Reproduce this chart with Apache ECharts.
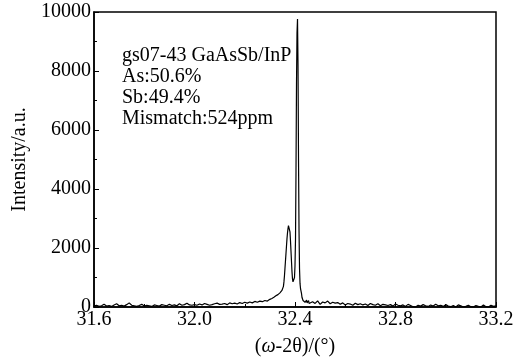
<!DOCTYPE html>
<html>
<head>
<meta charset="utf-8">
<script src="https://cdn.jsdelivr.net/npm/echarts@6/dist/echarts.min.js"></script>
<style>html,body{margin:0;padding:0;background:#fff}#c{width:530px;height:362px}</style>
</head>
<body>
<div id="c"></div>
<script>
// Scan segments (angle in degrees, intensity in a.u.)
const leftStart = 31.60, leftStep = 0.01;
const leftIntensity = [
  30,60,20,40,90,30,50,20,70,110,
  40,60,30,80,140,60,40,20,50,90,
  30,60,40,20,70,50,30,80,60,40,
  90,50,70,40,110,60,80,130,70,60,
  80,60,100,70,120,90,60,80,110,130,
  90,100,120,80,140,110,130,100,150,120,
  160,130,170,140,190,160,200,180,220,200,
  260
];
const peakStart = 32.302, peakStep = 0.002;
const peakIntensity = [
  230,270,240,290,260,310,280,330,300,350,
  320,380,340,400,370,420,390,450,420,480,
  460,520,500,560,580,620,700,850,1050,1300,
  1550,1800,2050,2300,2500,2650,2760,2810,2750,2550,
  2250,1900,1550,1200,950,850,820,880,1000,1400,
  2300,4600,7600,9300,9760,8200,5000,2600,1300,800,
  620,560,450,320,260,220,250,180,210,160,
  190,150,230,140,200,130,220,120,180,110
];
const rightStart = 32.47, rightStep = 0.01;
const rightIntensity = [
  180,120,210,90,170,140,200,110,160,130,
  150,90,140,70,120,100,60,130,80,110,
  70,100,50,120,80,60,110,40,90,70,
  50,80,30,100,60,40,70,20,90,50,
  10,0,60,30,80,40,20,70,30,90,
  40,60,20,80,30,10,50,0,70,40,
  0,20,60,10,0,50,20,0,70,10,
  0,60,20,40
];
const yTicks = [0,2000,4000,6000,8000,10000];
const xTicks = [31.6,32.0,32.4,32.8,33.2];
const annotation = ['gs07-43 GaAsSb/InP','As:50.6%','Sb:49.4%','Mismatch:524ppm'];

const data = [];
leftIntensity.forEach((v,i)=>data.push([+(leftStart+i*leftStep).toFixed(4), v]));
peakIntensity.forEach((v,i)=>data.push([+(peakStart+i*peakStep).toFixed(4), v]));
rightIntensity.forEach((v,i)=>data.push([+(rightStart+i*rightStep).toFixed(4), v]));

const font = 'Liberation Serif';
const chart = echarts.init(document.getElementById('c'));
chart.setOption({
  animation:false,
  backgroundColor:'#fff',
  grid:{left:94,right:34,top:12,bottom:55,show:true,borderColor:'#000',borderWidth:1.5,backgroundColor:'transparent'},
  xAxis:{
    type:'value',min:xTicks[0],max:xTicks[xTicks.length-1],interval:0.4,
    axisLine:{lineStyle:{color:'#000',width:1.5}},
    axisTick:{inside:true,length:5,lineStyle:{color:'#000'}},
    minorTick:{show:true,splitNumber:2,length:3,lineStyle:{color:'#000'}},
    splitLine:{show:false},
    axisLabel:{color:'#000',fontFamily:font,fontSize:20,margin:3,formatter:v=>v.toFixed(1)},
    name:'({i|ω}-2θ)/(°)',nameLocation:'middle',nameGap:30,
    nameTextStyle:{color:'#000',fontFamily:font,fontSize:20,rich:{i:{fontStyle:'italic',fontFamily:font,fontSize:20,color:'#000'}}}
  },
  yAxis:{
    type:'value',min:yTicks[0],max:yTicks[yTicks.length-1],interval:2000,
    axisLine:{show:true,lineStyle:{color:'#000',width:1.5}},
    axisTick:{show:true,inside:true,length:5,lineStyle:{color:'#000'}},
    minorTick:{show:true,splitNumber:2,length:3,lineStyle:{color:'#000'}},
    splitLine:{show:false},
    axisLabel:{color:'#000',fontFamily:font,fontSize:20,margin:3,formatter:v=>String(v)},
    name:'Intensity/a.u.',nameLocation:'middle',nameGap:64,nameRotate:90,
    nameTextStyle:{color:'#000',fontFamily:font,fontSize:20}
  },
  graphic:[{
    type:'text',left:122,top:45,
    style:{text:annotation.join('\n'),fontFamily:font,fontSize:20,lineHeight:21,fill:'#000'}
  }],
  series:[{
    type:'line',data:data,showSymbol:false,symbol:'none',
    lineStyle:{color:'#000',width:1.2},clip:true
  }]
});
</script>
</body>
</html>
